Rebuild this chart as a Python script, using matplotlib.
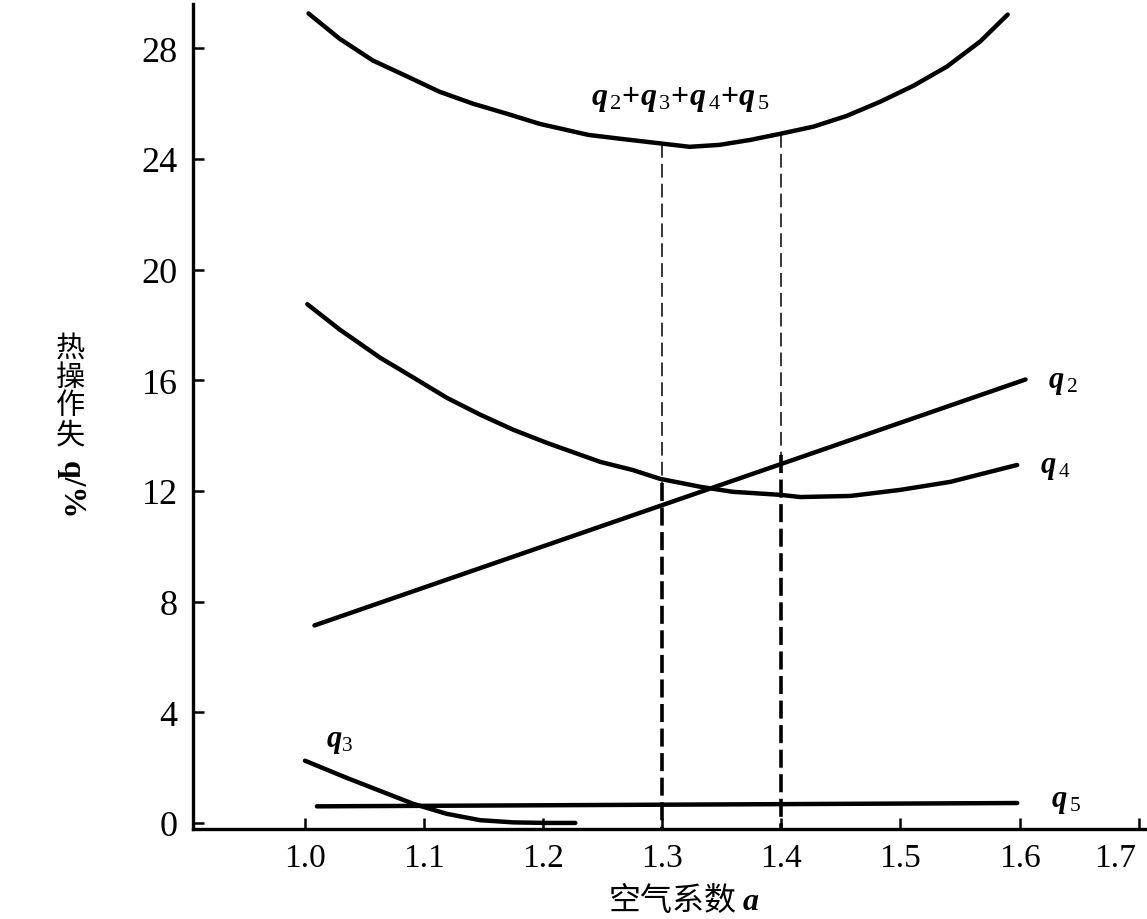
import matplotlib.pyplot as plt
from matplotlib.transforms import ScaledTranslation

# air excess coefficient (x) and heat losses (%)
a_total = [1.003, 1.029, 1.057, 1.086, 1.113, 1.141, 1.170, 1.197, 1.238, 1.265,
           1.301, 1.323, 1.348, 1.374, 1.399, 1.427, 1.455, 1.483, 1.511, 1.539,
           1.567, 1.590]
q_total = [29.26, 28.35, 27.56, 26.98, 26.43, 26.00, 25.63, 25.27, 24.87, 24.73,
           24.55, 24.44, 24.51, 24.69, 24.91, 25.17, 25.56, 26.07, 26.65, 27.34,
           28.25, 29.22]

a_q4 = [1.002, 1.029, 1.063, 1.091, 1.119, 1.147, 1.175, 1.203, 1.231, 1.248,
        1.275, 1.298, 1.332, 1.359, 1.399, 1.416, 1.458, 1.500, 1.542, 1.598]
q4 = [18.75, 17.84, 16.82, 16.10, 15.37, 14.76, 14.21, 13.74, 13.31, 13.05,
      12.76, 12.44, 12.15, 11.97, 11.86, 11.78, 11.82, 12.04, 12.33, 12.94]

a_q2 = [1.008, 1.605]
q2 = [7.14, 16.03]

a_q3 = [1.000, 1.035, 1.063, 1.091, 1.119, 1.147, 1.175, 1.203, 1.227]
q3 = [2.25, 1.63, 1.16, 0.69, 0.33, 0.10, 0.02, 0.0, 0.0]

a_q5 = [1.010, 1.598]
q5 = [0.60, 0.72]

# optimum range marked by the dashed lines
a_opt = [1.30, 1.40]
q_opt_top = [24.55, 24.90]
q_opt_mid = [12.3, 13.3]

x_ticks = [1.0, 1.1, 1.2, 1.3, 1.4, 1.5, 1.6, 1.7]
y_ticks = [0, 4, 8, 12, 16, 20, 24, 28]

plt.rcParams['font.family'] = ['Liberation Serif', 'Noto Sans CJK SC']
plt.rcParams['mathtext.fontset'] = 'custom'
plt.rcParams['mathtext.it'] = 'Liberation Serif:italic:bold'
plt.rcParams['mathtext.rm'] = 'Liberation Serif'

fig = plt.figure(figsize=(11.47, 9.2), dpi=100)
ax = fig.add_axes([193 / 1147, 0.0978, 952 / 1147, 0.8967])

lw = 3.2
for xs, ys in [(a_total, q_total), (a_q4, q4), (a_q2, q2), (a_q3, q3), (a_q5, q5)]:
    ax.plot(xs, ys, color='black', lw=lw, solid_capstyle='round',
            solid_joinstyle='round')

for a, top, mid in zip(a_opt, q_opt_top, q_opt_mid):
    ax.plot([a, a], [top, mid], color='black', lw=1.1, dashes=(9, 4))
    ax.plot([a, a], [mid, -0.2], color='black', lw=2.6, dashes=(5, 1.8))

ax.text(1.315, 26.18, r'$q_{\,2}$+$q_{\,3}$+$q_{\,4}$+$q_{\,5}$', fontsize=23,
        ha='center', va='center', fontweight='bold')
ax.text(1.624, 15.95, r'$q_{\,2}$', fontsize=22, ha='left', va='center')
ax.text(1.617, 12.87, r'$q_{\,4}$', fontsize=22, ha='left', va='center')
ax.text(1.018, 2.97, r'$q_3$', fontsize=22, ha='left', va='center')
ax.text(1.626, 0.80, r'$q_{\,5}$', fontsize=22, ha='left', va='center')

ax.set_xlim(0.906, 1.7053)
ax.set_ylim(-0.22, 29.6)
ax.set_xticks(x_ticks)
ax.set_xticklabels(['%.1f' % x for x in x_ticks])
ax.set_yticks(y_ticks)
ax.tick_params(direction='in', length=8, width=1.8)
ax.tick_params(axis='x', labelsize=24, pad=10)
ax.tick_params(axis='y', labelsize=26, pad=11)
# last x label sits at the edge of the page, nudge it left
last = ax.get_xticklabels()[-1]
last.set_transform(last.get_transform() + ScaledTranslation(-0.24, 0, fig.dpi_scale_trans))

for side in ['top', 'right']:
    ax.spines[side].set_visible(False)
for side in ['left', 'bottom']:
    ax.spines[side].set_linewidth(2.4)

ax.set_xlabel('空气系数 $a$', fontsize=23, family=['Noto Sans CJK SC'])
ax.xaxis.set_label_coords((684 - 193) / 952, -52 / 825)

fig.text(70 / 1147, 1 - 392 / 920, '热\n操\n作\n失', fontsize=21,
         family=['Noto Sans CJK SC'], ha='center', va='center', linespacing=0.95)
fig.text(70 / 1147, 1 - 490 / 920, 'q/%', fontsize=23, rotation=270,
         ha='center', va='center', fontweight='bold')

fig.savefig('out.png', dpi=100)
